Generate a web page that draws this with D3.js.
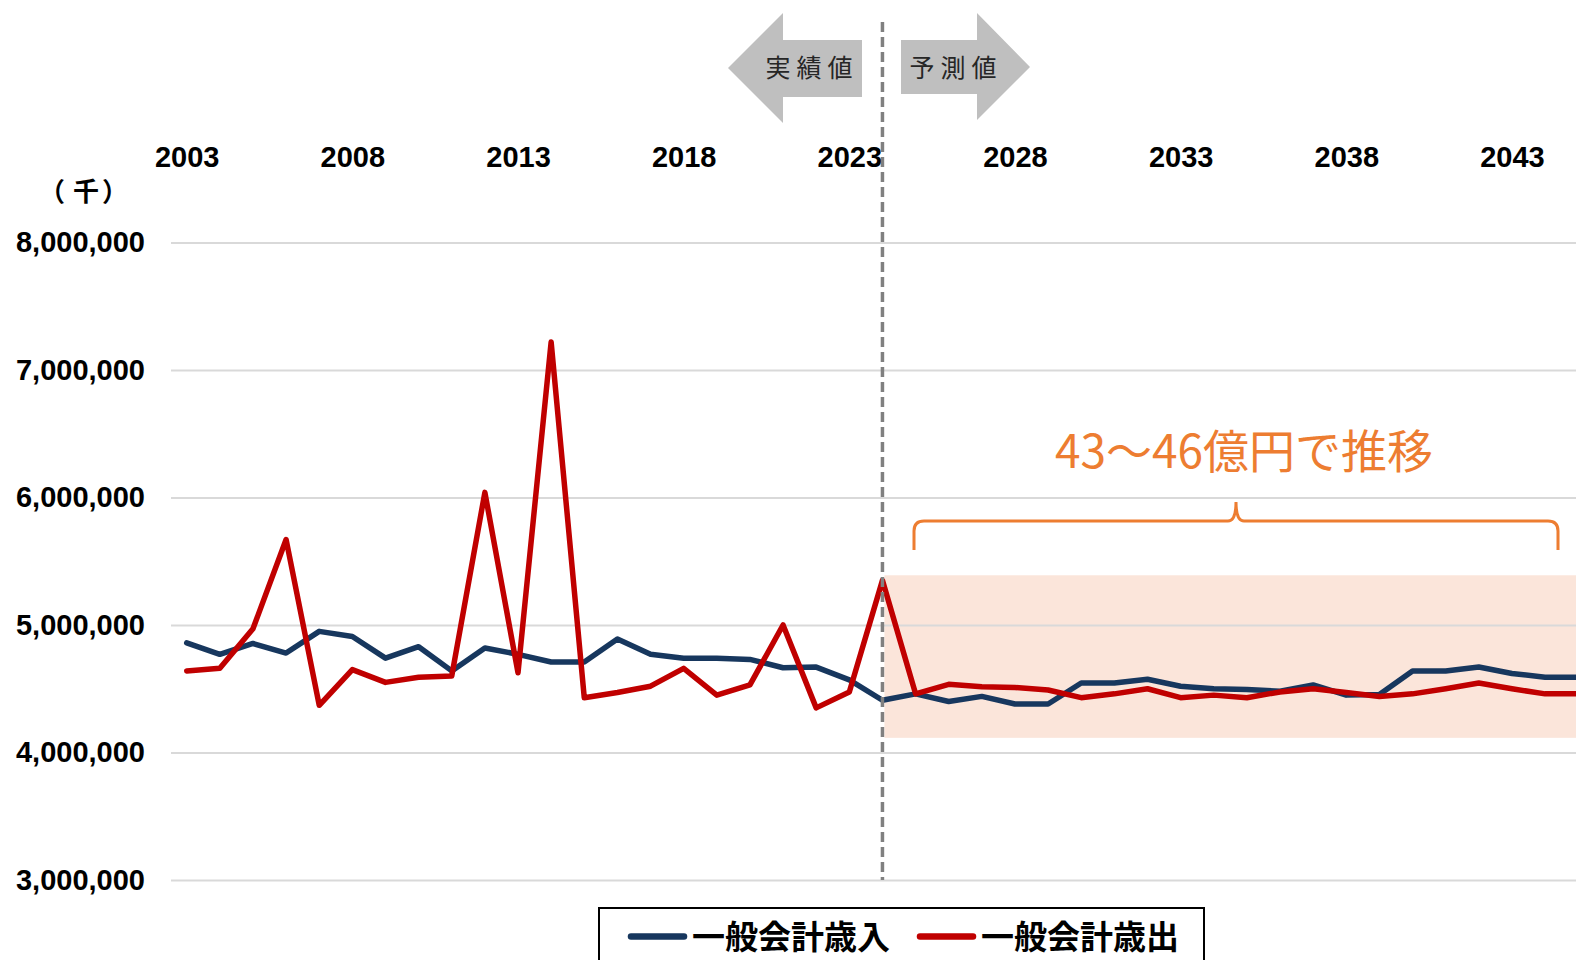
<!DOCTYPE html>
<html>
<head>
<meta charset="utf-8">
<script src="https://cdn.jsdelivr.net/npm/d3@7"></script>
<style>
body { margin: 0; background: #fff; }
svg { display: block; background: #fff; }
</style>
</head>
<body>
<svg id="chart" width="1576" height="960"></svg>
<script>
/* global d3 */

// data (千円)
var years = d3.range(2003, 2046);
var revenue = [
  4860000, 4770000, 4855000, 4780000, 4950000, 4910000, 4740000, 4830000, 4640000, 4820000,
  4770000, 4710000, 4710000, 4890000, 4770000, 4740000, 4740000, 4730000, 4665000, 4670000,
  4570000, 4410000, 4460000, 4400000, 4440000, 4380000, 4380000, 4545000, 4545000, 4575000,
  4520000, 4500000, 4495000, 4480000, 4530000, 4450000, 4455000, 4640000, 4640000, 4670000,
  4620000, 4590000, 4590000
];
var expenditure = [
  4640000, 4660000, 4970000, 5670000, 4370000, 4650000, 4550000, 4590000, 4600000, 6040000,
  4625000, 7220000, 4430000, 4470000, 4520000, 4660000, 4450000, 4530000, 5000000, 4350000,
  4475000, 5350000, 4460000, 4535000, 4515000, 4510000, 4490000, 4430000, 4460000, 4500000,
  4430000, 4450000, 4430000, 4475000, 4500000, 4470000, 4440000, 4460000, 4500000, 4545000,
  4500000, 4460000, 4460000
];
var seriesNames = ['一般会計歳入', '一般会計歳出'];
var xTicks = [2003, 2008, 2013, 2018, 2023, 2028, 2033, 2038, 2043];
var yTicks = [3000000, 4000000, 5000000, 6000000, 7000000, 8000000];
var forecastYear = 2024;
var forecastBand = [4115000, 5390000];
var unitLabel = ['（', '千', '）'];
var pastLabel = '実績値';
var futureLabel = '予測値';
var noteText = '43～46億円で推移';

var C = { // styles
  navy: '#17375e',
  red: '#c00000',
  grid: '#d9d9d9',
  band: '#fbe5da',
  orange: '#ed7d31',
  arrow: '#bfbfbf',
  num: '"Liberation Sans", Arial, sans-serif',
  jp: '"Noto Sans CJK JP", "Noto Sans", sans-serif'
};

var W = 1576, H = 960;
var svg = d3.select('#chart');

var x = d3.scaleLinear().domain([2003, 2045]).range([186.7, 1578.2]);
var y = d3.scaleLinear().domain([3000000, 8000000]).range([880, 242.5]);

// forecast band
svg.append('rect')
  .attr('x', x(forecastYear) + 2)
  .attr('y', y(forecastBand[1]))
  .attr('width', W - x(forecastYear) - 2)
  .attr('height', y(forecastBand[0]) - y(forecastBand[1]))
  .attr('fill', C.band);

// y axis + gridlines
var gy = svg.append('g')
  .attr('transform', 'translate(171,0)')
  .call(d3.axisLeft(y)
    .tickValues(yTicks)
    .tickSize(-(W - 171))
    .tickPadding(26)
    .tickFormat(d3.format(',')));
gy.select('.domain').remove();
gy.selectAll('.tick line').attr('stroke', C.grid).attr('stroke-width', 2);
gy.selectAll('.tick text')
  .attr('fill', '#000')
  .style('font-family', C.num)
  .style('font-size', '29px')
  .style('font-weight', 'bold');

// x axis on top
var gx = svg.append('g')
  .attr('transform', 'translate(0,167)')
  .call(d3.axisTop(x)
    .tickValues(xTicks)
    .tickSize(0)
    .tickPadding(0)
    .tickFormat(d3.format('d')));
gx.select('.domain').remove();
gx.selectAll('.tick text')
  .attr('fill', '#000')
  .style('font-family', C.num)
  .style('font-size', '29px')
  .style('font-weight', 'bold');

// unit label, one glyph per cell so the wide brackets keep their width
[52, 86, 115].forEach(function(cx, i) {
  svg.append('text')
    .attr('x', cx).attr('y', 201)
    .attr('text-anchor', 'middle')
    .style('font-family', C.jp)
    .style('font-size', '26px')
    .style('font-weight', 'bold')
    .text(unitLabel[i]);
});

// lines
var line = d3.line()
  .x(function(d) { return x(d[0]); })
  .y(function(d) { return y(d[1]); });
[[revenue, C.navy], [expenditure, C.red]].forEach(function(s) {
  svg.append('path')
    .datum(years.map(function(yr, i) { return [yr, s[0][i]]; }))
    .attr('d', line)
    .attr('fill', 'none')
    .attr('stroke', s[1])
    .attr('stroke-width', 5.5)
    .attr('stroke-linejoin', 'round')
    .attr('stroke-linecap', 'round');
});

// divider
svg.append('line')
  .attr('x1', x(forecastYear)).attr('x2', x(forecastYear))
  .attr('y1', 22).attr('y2', 880)
  .attr('stroke', '#808080')
  .attr('stroke-width', 3.5)
  .attr('stroke-dasharray', '10,5');

// arrows at the top
svg.append('polygon')
  .attr('points', '728,68 783,13 783,40 862,40 862,97 783,97 783,123')
  .attr('fill', C.arrow);
svg.append('polygon')
  .attr('points', '1030,67 977,13 977,40 901,40 901,94 977,94 977,120')
  .attr('fill', C.arrow);
[[pastLabel, 812], [futureLabel, 956]].forEach(function(t) {
  svg.append('text')
    .attr('x', t[1]).attr('y', 77)
    .attr('text-anchor', 'middle')
    .attr('fill', '#262626')
    .style('font-family', C.jp)
    .style('font-size', '25px')
    .style('letter-spacing', '6px')
    .text(t[0]);
});

// brace + note
svg.append('path')
  .attr('d', 'M914,550 L914,531 Q914,521 924,521 L1228,521 Q1236,521 1236,502 ' +
    'Q1236,521 1244,521 L1548,521 Q1558,521 1558,531 L1558,550')
  .attr('fill', 'none')
  .attr('stroke', C.orange)
  .attr('stroke-width', 3);
svg.append('text')
  .attr('x', 1244).attr('y', 468)
  .attr('text-anchor', 'middle')
  .attr('fill', C.orange)
  .style('font-family', C.jp)
  .style('font-size', '46px')
  .text(noteText);

// legend
var lg = svg.append('g');
lg.append('rect')
  .attr('x', 599).attr('y', 908)
  .attr('width', 605).attr('height', 80)
  .attr('fill', '#fff')
  .attr('stroke', '#000')
  .attr('stroke-width', 2);
[[631, C.navy, seriesNames[0]], [920, C.red, seriesNames[1]]].forEach(function(it) {
  lg.append('line')
    .attr('x1', it[0]).attr('x2', it[0] + 53)
    .attr('y1', 936.5).attr('y2', 936.5)
    .attr('stroke', it[1])
    .attr('stroke-width', 6.5)
    .attr('stroke-linecap', 'round');
  lg.append('text')
    .attr('x', it[0] + 61).attr('y', 949)
    .attr('fill', '#000')
    .style('font-family', C.jp)
    .style('font-size', '33px')
    .style('font-weight', 'bold')
    .text(it[2]);
});
</script>
</body>
</html>
